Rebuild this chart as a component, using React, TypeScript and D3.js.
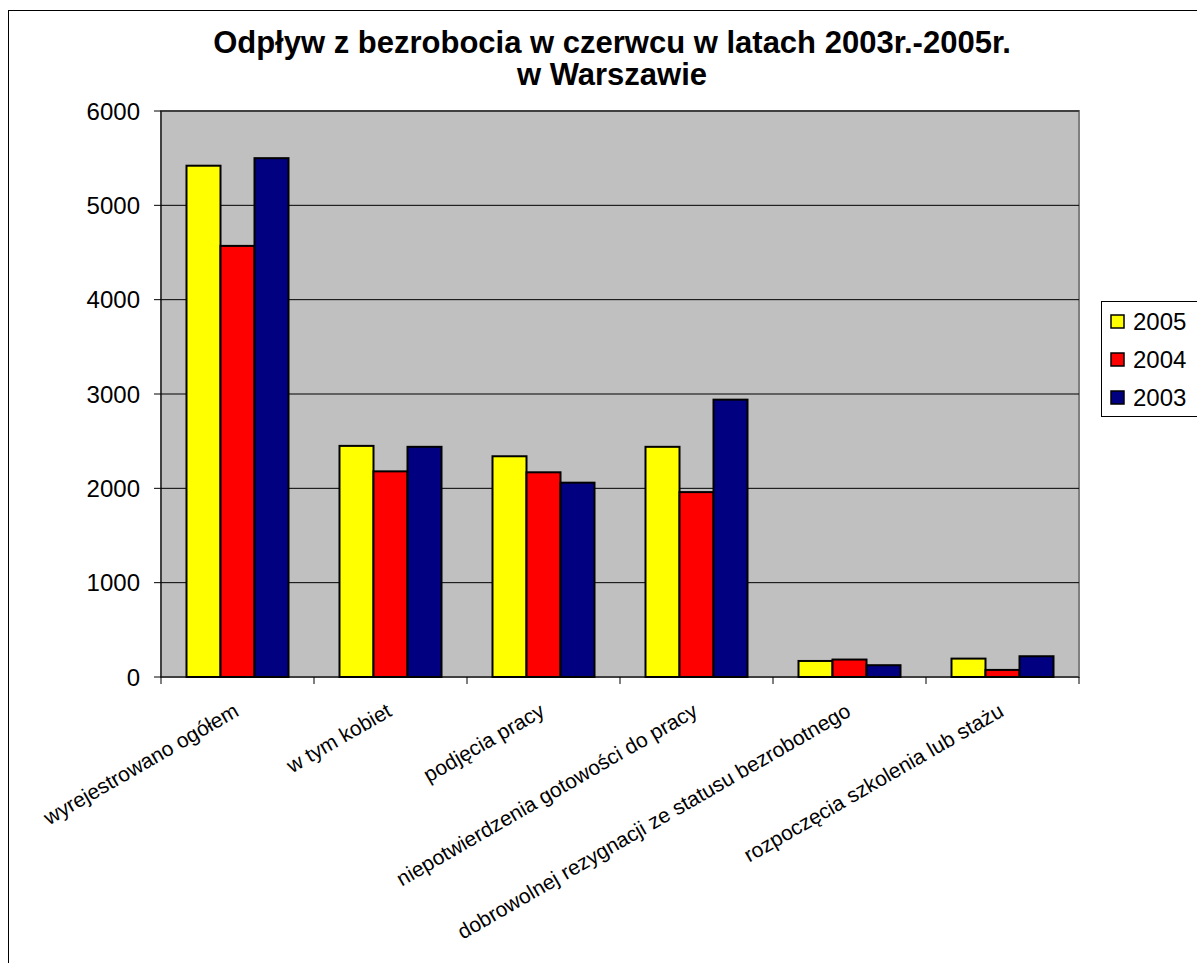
import React from "react";
import * as d3 from "d3";

const categories = [
  "wyrejestrowano ogółem",
  "w tym kobiet",
  "podjęcia pracy",
  "niepotwierdzenia gotowości do pracy",
  "dobrowolnej rezygnacji ze statusu bezrobotnego",
  "rozpoczęcia szkolenia lub stażu",
];
const seriesNames = ["2005", "2004", "2003"];
const values2005 = [5420, 2450, 2340, 2440, 170, 195];
const values2004 = [4570, 2180, 2170, 1960, 185, 75];
const values2003 = [5500, 2440, 2060, 2940, 125, 220];
const seriesColors = ["#FFFF00", "#FF0000", "#000080"];
const yTicks = [0, 1000, 2000, 3000, 4000, 5000, 6000];
const titleLines = ["Odpływ z bezrobocia w czerwcu w latach 2003r.-2005r.", "w Warszawie"];

const W = 1197;
const H = 963;
const plot = { left: 161, right: 1079, top: 111, bottom: 677 };
const FONT = "'Liberation Sans', Arial, sans-serif";

export default function App() {
  const seriesValues = [values2005, values2004, values2003];
  const x = d3.scaleBand<string>().domain(categories).range([plot.left, plot.right]).paddingInner(0).paddingOuter(0);
  const inner = d3.scaleBand<string>().domain(seriesNames).range([0, x.bandwidth()]).paddingInner(0).paddingOuter(0.75);
  const y = d3.scaleLinear().domain([0, 6000]).range([plot.bottom, plot.top]);
  const boundaries = [...categories.map((c) => x(c) as number), plot.right];

  return (
    <svg width={W} height={H} style={{ display: "block", position: "absolute", left: 0, top: 0 }} fontFamily={FONT}>
      <rect x={0} y={0} width={W} height={H} fill="#fff" />
      <rect x={8.5} y={10.5} width={1250} height={1000} fill="#fff" stroke="#000" strokeWidth={1} />
      {titleLines.map((t, i) => (
        <text key={i} x={612} y={53 + i * 32} textAnchor="middle" fontSize={31} fontWeight="bold" fill="#000">
          {t}
        </text>
      ))}
      <rect x={plot.left} y={plot.top} width={plot.right - plot.left} height={plot.bottom - plot.top} fill="#C0C0C0" stroke="#808080" strokeWidth={2} />
      {yTicks.filter((t) => t > 0).map((t) => (
        <line key={t} x1={plot.left} x2={plot.right} y1={y(t)} y2={y(t)} stroke="#000" strokeWidth={1} />
      ))}
      {categories.map((c, ci) =>
        seriesNames.map((s, si) => {
          const v = seriesValues[si][ci];
          const bx = (x(c) as number) + (inner(s) as number);
          return (
            <rect key={c + s} x={bx} y={y(v)} width={inner.bandwidth()} height={y(0) - y(v)} fill={seriesColors[si]} stroke="#000" strokeWidth={2} />
          );
        })
      )}
      <line x1={plot.left} x2={plot.left} y1={plot.top} y2={plot.bottom} stroke="#000" strokeWidth={1} />
      <line x1={plot.left} x2={plot.right} y1={plot.bottom} y2={plot.bottom} stroke="#000" strokeWidth={1} />
      {yTicks.map((t) => (
        <g key={t}>
          <line x1={plot.left - 7} x2={plot.left} y1={y(t)} y2={y(t)} stroke="#000" />
          <text x={140} y={y(t) + 8.5} textAnchor="end" fontSize={24} fill="#000">
            {t}
          </text>
        </g>
      ))}
      {boundaries.map((b, i) => (
        <line key={i} x1={b} x2={b} y1={plot.bottom} y2={plot.bottom + 7} stroke="#000" />
      ))}
      {categories.map((c) => {
        const cx = (x(c) as number) + x.bandwidth() / 2 - 5;
        const cy = plot.bottom + 25;
        return (
          <text key={c} transform={`translate(${cx},${cy}) rotate(-30)`} textAnchor="end" fontSize={21} fill="#000" dy="0.72em">
            {c}
          </text>
        );
      })}
      <rect x={1101.5} y={301.5} width={120} height={115} fill="#fff" stroke="#000" strokeWidth={1} />
      {seriesNames.map((s, i) => (
        <g key={s}>
          <rect x={1111} y={315 + i * 38} width={13} height={13} fill={seriesColors[i]} stroke="#000" strokeWidth={1.5} />
          <text x={1133} y={330 + i * 38} fontSize={24} fill="#000">
            {s}
          </text>
        </g>
      ))}
    </svg>
  );
}
